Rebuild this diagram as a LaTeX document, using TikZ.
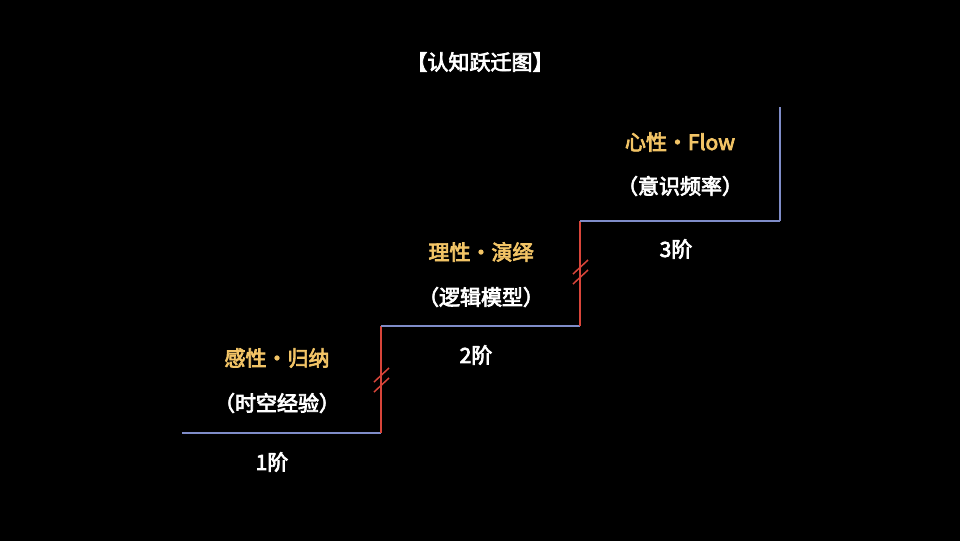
\documentclass[tikz,border=0pt]{standalone}
\usepackage{fontspec}
\newfontfamily\cjk{Noto Sans CJK SC}[FakeBold=3.5]
\definecolor{tb}{HTML}{7F8CC8}
\definecolor{rr}{HTML}{D9453A}
\definecolor{gd}{HTML}{F2C466}
\begin{document}
\begin{tikzpicture}[x=1pt,y=-1pt,
 tread/.style={draw=tb,line width=2pt},
 riser/.style={draw=rr,line width=2pt},
 tick/.style={draw=rr,line width=1.5pt},
 gold/.style={text=gd,font=\cjk\fontsize{21}{24}\selectfont},
 wt/.style={text=white,font=\cjk\fontsize{21}{24}\selectfont}]
\fill[black] (0,0) rectangle (960,541);
\useasboundingbox (0,0) rectangle (960,541);
\coordinate (a) at (182,433); \coordinate (b) at (381,433);
\coordinate (c) at (381,326); \coordinate (d) at (580,326);
\coordinate (e) at (580,221); \coordinate (f) at (780,221);
\coordinate (g) at (780,107);
\draw[tread] (a)--(b); \draw[riser] (b)--(c); \draw[tread] (c)--(d);
\draw[riser] (d)--(e); \draw[tread] (e)--(f); \draw[tread] (f)--(g);
\foreach \y in {375,385} \draw[tick] (374,\y+7)--(389,\y-7);
\foreach \y in {267,277} \draw[tick] (573,\y+7)--(588,\y-7);
\node[wt] (t) at (480,62) {【认知跃迁图】};
\node[gold] (l1) at (277,358) {感性·归纳};
\node[wt] (s1) at (277,403) {（时空经验）};
\node[wt] (n1) at (272,462) {1阶};
\node[gold] (l2) at (481,252) {理性·演绎};
\node[wt] (s2) at (481,297) {（逻辑模型）};
\node[wt] (n2) at (476,355) {2阶};
\node[gold] (l3) at (680,142) {心性·Flow};
\node[wt] (s3) at (680,186) {（意识频率）};
\node[wt] (n3) at (676,249) {3阶};
\end{tikzpicture}
\end{document}
